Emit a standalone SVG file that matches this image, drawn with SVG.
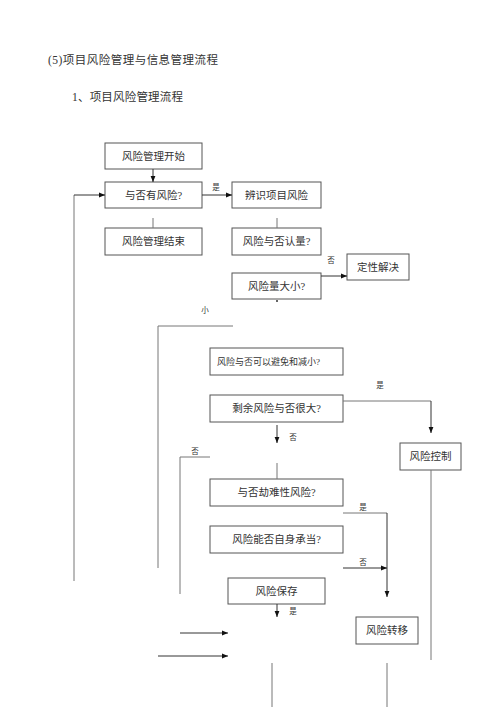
<svg xmlns="http://www.w3.org/2000/svg" width="500" height="707" viewBox="0 0 500 707">
<defs>
<marker id="ah" viewBox="0 0 10 10" refX="10" refY="5" markerWidth="6" markerHeight="6" orient="auto" markerUnits="userSpaceOnUse"><path d="M0,1 L10,5 L0,9 z" fill="#111"/></marker>
</defs>
<style>
text{font-family:"Liberation Serif","Noto Sans CJK SC",serif;fill:#333}
.box rect{fill:#fff;stroke:#555;stroke-width:1}
.box text{font-size:10.5px;text-anchor:middle}
.ln{fill:none;stroke:#777;stroke-width:1}
.ar{fill:none;stroke:#333;stroke-width:1;marker-end:url(#ah)}
.lb{font-size:7.5px;text-anchor:middle}
.title{font-size:11.5px}
</style>
<rect width="500" height="707" fill="#fff"/>
<text class="title" x="48" y="64" textLength="170" lengthAdjust="spacing">(5)项目风险管理与信息管理流程</text>
<text class="title" x="72" y="101" textLength="111" lengthAdjust="spacing">1、项目风险管理流程</text>

<g id="n1" class="box"><rect x="105" y="143" width="97" height="26"/><text x="153.5" y="160">风险管理开始</text></g>
<g id="n2" class="box"><rect x="105" y="182" width="97" height="26"/><text x="153.5" y="199">与否有风险?</text></g>
<g id="n3" class="box"><rect x="232" y="182" width="89" height="26"/><text x="276.5" y="199">辨识项目风险</text></g>
<g id="n4" class="box"><rect x="105" y="228" width="97" height="27"/><text x="153.5" y="245">风险管理结束</text></g>
<g id="n5" class="box"><rect x="232" y="228" width="89" height="27"/><text x="276.5" y="245">风险与否认量?</text></g>
<g id="n6" class="box"><rect x="347" y="254" width="62" height="26"/><text x="378" y="271">定性解决</text></g>
<g id="n7" class="box"><rect x="232" y="273" width="89" height="26"/><text x="276.5" y="290">风险量大小?</text></g>
<g id="n8" class="box"><rect x="210" y="348" width="133" height="27"/><text x="217" y="365" style="font-size:9px;text-anchor:start">风险与否可以避免和减小?</text></g>
<g id="n9" class="box"><rect x="210" y="395" width="133" height="27"/><text x="276.5" y="412">剩余风险与否很大?</text></g>
<g id="n10" class="box"><rect x="400" y="443" width="61" height="27"/><text x="430.5" y="460">风险控制</text></g>
<g id="n11" class="box"><rect x="210" y="479" width="133" height="27"/><text x="276.5" y="496">与否劫难性风险?</text></g>
<g id="n12" class="box"><rect x="210" y="526" width="133" height="27"/><text x="276.5" y="543">风险能否自身承当?</text></g>
<g id="n13" class="box"><rect x="228" y="578" width="97" height="26"/><text x="276.5" y="595">风险保存</text></g>
<g id="n14" class="box"><rect x="356" y="617" width="62" height="27"/><text x="387" y="634">风险转移</text></g>

<g id="connectors">
<path class="ar" d="M153,169 V182"/>
<path class="ar" d="M202,195 H232"/>
<path class="ln" d="M153,218 V228"/>
<path class="ln" d="M277,218 V228"/>
<path class="ln" d="M74,581 V195"/>
<path class="ar" d="M74,195 H105"/>
<path class="ar" d="M321,276 H347"/>
<circle cx="277" cy="301" r="1" fill="#333"/>
<path class="ln" d="M233,326 H158 V568"/>
<path class="ln" d="M343,401 H431"/>
<path class="ar" d="M431,401 V433"/>
<path class="ln" d="M431,470 V660"/>
<path class="ar" d="M277,425 V443"/>
<path class="ln" d="M210,457 H180 V594"/>
<path class="ln" d="M277,463 V479"/>
<path class="ln" d="M343,513 H387"/>
<path class="ar" d="M387,513 V597"/>
<path class="ar" d="M343,568 H387"/>
<path class="ar" d="M277,604 V617"/>
<path class="ar" d="M180,633 H228"/>
<path class="ar" d="M158,656 H228"/>
<path class="ln" d="M272,663 V707"/>
<path class="ln" d="M387,663 V707"/>
</g>

<text class="lb" x="216" y="190">是</text>
<text class="lb" x="331" y="263">否</text>
<text class="lb" x="205" y="313">小</text>
<text class="lb" x="380" y="388">是</text>
<text class="lb" x="293" y="440">否</text>
<text class="lb" x="195" y="454">否</text>
<text class="lb" x="363" y="510">是</text>
<text class="lb" x="363" y="565">否</text>
<text class="lb" x="293" y="614">是</text>
</svg>
